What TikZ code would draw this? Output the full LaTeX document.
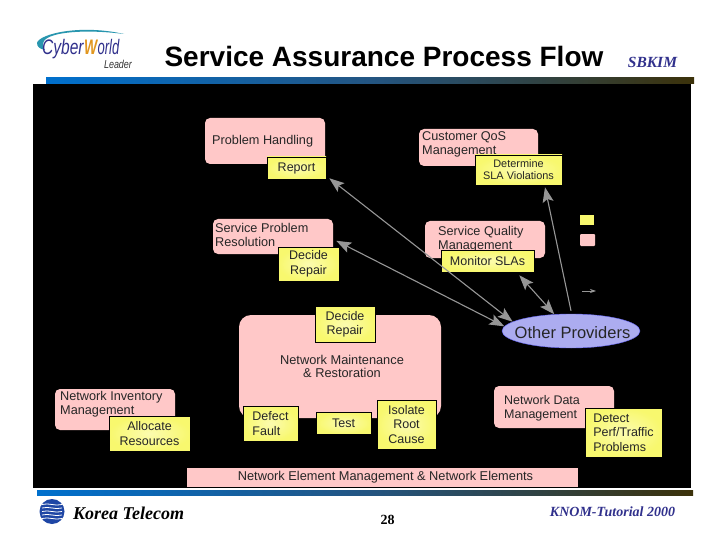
\documentclass[tikz,border=0pt]{standalone}
\usepackage{fontspec}
\setmainfont{Liberation Sans}
\newfontfamily\serifx{Liberation Serif}
\usetikzlibrary{arrows.meta,shapes.geometric,calc}
\definecolor{pinkb}{RGB}{255,200,200}
\definecolor{yellowb}{RGB}{248,248,110}
\definecolor{ovalb}{RGB}{172,172,240}
\definecolor{arrowg}{RGB}{150,150,150}
\definecolor{barblue}{RGB}{0,112,205}
\definecolor{barmid}{RGB}{35,85,130}
\definecolor{barend}{RGB}{60,50,10}
\definecolor{navyt}{RGB}{48,48,140}
\definecolor{logoorange}{RGB}{225,150,30}
\definecolor{logoteal}{RGB}{40,150,175}
\definecolor{ktblue}{RGB}{30,70,165}
\tikzset{
  pinkbox/.style={fill=pinkb,rounded corners=5pt,inner sep=0pt},
  yellowbox/.style={inner color=yellowb!55!white,outer color=yellowb,draw=black,line width=0.5pt,inner sep=0pt,align=center,font=\fontsize{12.5}{14.5}\selectfont,text=black!85},
  boxlabel/.style={inner sep=0pt,align=left,font=\fontsize{12.7}{14.5}\selectfont,text=black!85},
  flowarrow/.style={draw=arrowg,line width=1.1pt},
  flowtip/.tip={Stealth[length=15pt,width=11pt,inset=3pt]},
  bar/.style={left color=barblue,right color=barend,middle color=barmid,inner sep=0pt}
}
\begin{document}
\begin{tikzpicture}[x=1pt,y=-1pt]
\useasboundingbox (0,0) rectangle (720,540);
\fill[white] (0,0) rectangle (720,540);
% bars and black panel
\node[bar,minimum width=648pt,minimum height=6pt] (topbar) at (370,81) {};
\node[fill=black,inner sep=0pt,minimum width=658pt,minimum height=404pt] (panel) at (362,286) {};
\node[bar,minimum width=656pt,minimum height=5pt] (botbar) at (365,492.5) {};
% header
\node[font=\bfseries\fontsize{28}{30}\selectfont,inner sep=0pt] (title) at (384,56) {Service Assurance Process Flow};
\node[font=\serifx\bfseries\itshape\fontsize{15.5}{17}\selectfont,text=navyt,inner sep=0pt] (sbkim) at (652.5,62) {SBKIM};
% logo
\fill[logoteal] (37,43) .. controls (39,34) and (80,24) .. (124,34) .. controls (85,29) and (50,32) .. (44,41) .. controls (42,45) and (43,47) .. (45,50) .. controls (40,49) and (37,47) .. (37,43) -- cycle;
\node[inner sep=0pt,font=\itshape\fontsize{21}{22}\selectfont,anchor=base west,text=navyt,xscale=0.74] (cyber) at (42,55) {Cyber};
\node[inner sep=0pt,font=\bfseries\itshape\fontsize{21}{22}\selectfont,anchor=base west,text=logoorange,xscale=0.66] (world) at (84,55) {W};
\node[inner sep=0pt,font=\itshape\fontsize{21}{22}\selectfont,anchor=base west,text=navyt,xscale=0.62] (orld) at (97.5,55) {orld};
\node[inner sep=0pt,font=\itshape\fontsize{11.5}{12}\selectfont,text=black!80,xscale=0.78] (leader) at (118,64.5) {Leader};
% pink boxes
\node[pinkbox,minimum width=120pt,minimum height=46pt] (ph) at (265,141) {};
\node[boxlabel,anchor=west] (phl) at (212,141.5) {Problem Handling};
\node[pinkbox,minimum width=120pt,minimum height=35pt] (spr) at (273,236.5) {};
\node[boxlabel,anchor=north west] (sprl) at (215,223) {Service Problem\\Resolution};
\node[pinkbox,minimum width=119pt,minimum height=37pt] (cqos) at (478.5,147.5) {};
\node[boxlabel,anchor=north west] (cqosl) at (422,131) {Customer QoS\\Management};
\node[pinkbox,minimum width=120pt,minimum height=37pt] (sqm) at (485,239.5) {};
\node[boxlabel,anchor=north west] (sqml) at (438,226) {Service Quality\\Management};
\node[pinkbox,rounded corners=12pt,minimum width=202pt,minimum height=103pt] (nmr) at (340,366.5) {};
\node[boxlabel,align=center,font=\fontsize{12.8}{13}\selectfont] (nmrl) at (342,366.5) {Network Maintenance\\\& Restoration};
\node[pinkbox,minimum width=120pt,minimum height=41pt] (nim) at (115,409.5) {};
\node[boxlabel,anchor=north west] (niml) at (60,391) {Network Inventory\\Management};
\node[pinkbox,minimum width=120pt,minimum height=42pt] (ndm) at (554,407) {};
\node[boxlabel,anchor=north west,font=\fontsize{12.5}{14.5}\selectfont] (ndml) at (504,395) {Network Data\\Management};
\node[fill=pinkb,inner sep=0pt,minimum width=391pt,minimum height=19pt,font=\fontsize{12.8}{14}\selectfont,text=black!85] (nem) at (382.5,477.5) {\hspace*{6pt}Network Element Management \& Network Elements};
% legend
\node[fill=yellowb,inner sep=0pt,minimum width=14pt,minimum height=10pt] (legy) at (587,220) {};
\node[fill=pinkb,inner sep=0pt,rounded corners=1pt,minimum width=15pt,minimum height=12pt] (legp) at (587.5,240) {};
% yellow boxes
\node[yellowbox,minimum width=59pt,minimum height=22pt] (report) at (296.5,168) {Report};
\node[yellowbox,minimum width=61pt,minimum height=34pt] (dr1) at (308.5,264) {Decide\\Repair};
\node[yellowbox,minimum width=87pt,minimum height=30pt,font=\fontsize{10.9}{12.2}\selectfont] (det) at (518.5,170) {Determine\\SLA Violations};
\node[yellowbox,minimum width=93pt,minimum height=22pt] (mon) at (487.5,261) {Monitor SLAs};
\node[yellowbox,minimum width=60pt,minimum height=36pt] (dr2) at (345,324.5) {Decide\\Repair};
\node[yellowbox,minimum width=55pt,minimum height=35pt,align=left] (df) at (270.5,423.5) {Defect\\Fault};
\node[yellowbox,minimum width=55pt,minimum height=22pt] (test) at (343.5,423) {Test};
\node[yellowbox,minimum width=59pt,minimum height=49pt] (iso) at (406.5,424.5) {Isolate\\Root\\Cause};
\node[yellowbox,minimum width=81pt,minimum height=35pt] (alloc) at (149.5,433.5) {Allocate\\Resources};
\node[yellowbox,minimum width=77pt,minimum height=49pt,align=left] (dpt) at (623.5,432.5) {Detect\\Perf/Traffic\\Problems};
% ellipse
\node[ellipse,fill=ovalb,draw=ovalb!60!blue,line width=0.4pt,inner sep=0pt,minimum width=138pt,minimum height=34pt] (op) at (571,331) {};
\node[inner sep=0pt,font=\fontsize{16.5}{18}\selectfont,text=black!85] (opl) at (572.5,332.5) {Other Providers};
% connectors
\draw[flowarrow,flowtip-flowtip] ($(report.south east)+(3,-1)$) -- (op.171.6);
\draw[flowarrow,flowtip-flowtip] ($(dr1.north east)+(-3,-6)$) -- (op.176.6);
\draw[flowarrow,flowtip-flowtip] ($(mon.south east)+(-15,3)$) -- (op.135);
\draw[flowarrow,flowtip-] ($(det.south)+(26.5,2)$) -- ($(op.north)+(0,-3)$);
\coordinate (leg1) at (582,291);
\coordinate (leg2) at (596,291);
\draw[draw=arrowg,line width=0.7pt,-{Stealth[length=6pt,width=4pt]}] (leg1) -- (leg2);
% footer
\node[circle,fill=ktblue,inner sep=0pt,minimum size=25pt] (kt) at (52,511.5) {};
\foreach \yy in {-7,-3.5,0,3.5,7} \draw[white,line width=0.8pt] ($(kt)+(-10,\yy)$) .. controls ($(kt)+(-3,\yy-2)$) and ($(kt)+(3,\yy+2)$) .. ($(kt)+(10,\yy)$);
\node[font=\serifx\itshape\bfseries\fontsize{18}{20}\selectfont,inner sep=0pt,anchor=west] (ktt) at (73,513.5) {Korea Telecom};
\node[font=\serifx\bfseries\fontsize{14}{16}\selectfont,inner sep=0pt] (pg) at (387.5,520) {28};
\node[font=\serifx\bfseries\itshape\fontsize{14}{16}\selectfont,text=navyt,inner sep=0pt] (knom) at (612.5,511.5) {KNOM-Tutorial 2000};
\end{tikzpicture}
\end{document}
